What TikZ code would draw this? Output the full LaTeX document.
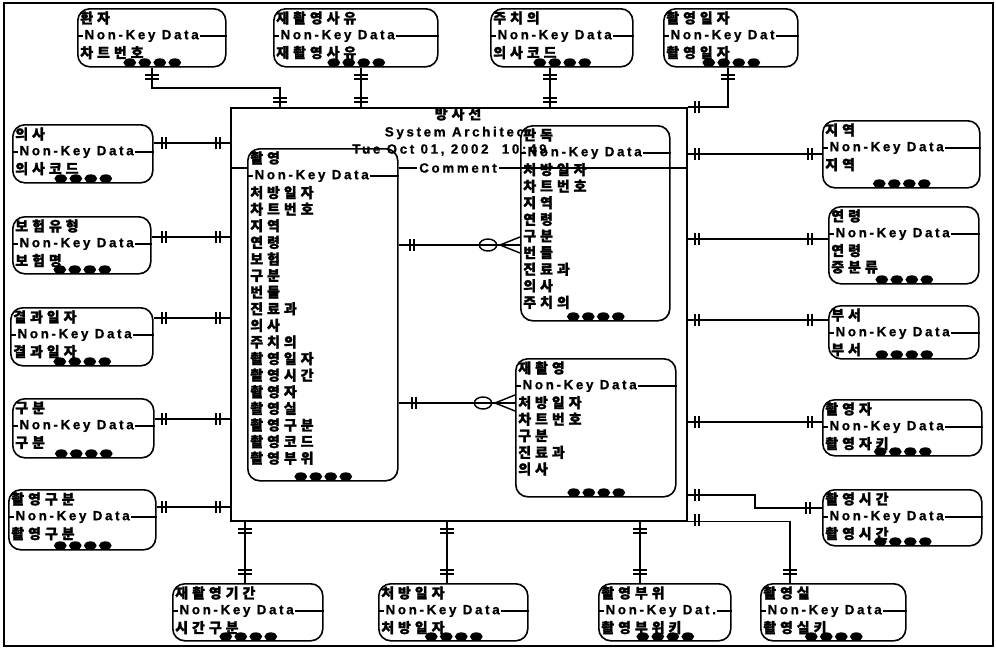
\documentclass[tikz,border=0pt]{standalone}
\usepackage{fontspec}
\setmainfont{Liberation Sans}[LetterSpace=20,BoldFeatures={FakeBold=1}]
\newfontfamily\kr{Noto Sans CJK KR}[LetterSpace=28,BoldFeatures={FakeBold=1.5}]
\usetikzlibrary{positioning}

\tikzset{
  ent/.style={draw,line width=1.2pt,rounded corners=9,anchor=north west,inner sep=0pt,fill=white},
  txt/.style={anchor=west,inner sep=0pt,font=\bfseries\fontsize{10}{10}\selectfont},
  ktxt/.style={anchor=west,inner sep=0pt,font=\kr\bfseries\fontsize{10.5}{10.5}\selectfont},
  rel/.style={line width=1.1pt},
  pics/uv/.style={code={\draw[rel] (-7,-2) -- (7,-2) (-7,2) -- (7,2);}},
  pics/uh/.style={code={\draw[rel] (-2,-6) -- (-2,6) (2,-6) -- (2,6);}},
  pics/muchos/.style={code={\draw[rel] (-32,0) ellipse (6.5pt and 4.5pt) (-20,0) -- (0,-8) (-20,0) -- (0,8);}},
}

% caja de entidad: id, x, y, ancho, alto, titulo, texto, atributos
\newcommand{\ent}[8]{%
  \node[ent,minimum width=#4*0.75pt,minimum height=#5*0.75pt] (#1) at (#2,#3) {};
  \node[ktxt] at ([shift={(3,10)}]#1.north west) {#6};
  \draw[line width=1pt] ([shift={(0,28)}]#1.north west) -- ([shift={(0,28)}]#1.north east);
  \node[txt,fill=white,inner xsep=1pt,inner ysep=1pt] at ([shift={(6,28)}]#1.north west) {#7};
  \foreach \a [count=\i] in {#8}
    \node[ktxt] at ([shift={(3,28+16.6*\i)}]#1.north west) {\a};
  \foreach \k in {-22,-7,8,23}
    \fill ([shift={(\k,-5)}]#1.south) ellipse (4.8pt and 3.2pt);
}

\begin{document}
\begin{tikzpicture}[x=0.75pt,y=-0.75pt]
  \useasboundingbox (0,0) rectangle (996,650);
  \draw[line width=1pt] (4,3) rectangle (993,646);

  % Area del modelo
  \node[draw,line width=1.2pt,anchor=north west,inner sep=0pt,
        minimum width=456*0.75pt,minimum height=413*0.75pt] (F) at (230,107) {};
  \node[ktxt,anchor=center] (tit) at (458,114) {방사선};
  \node[txt,anchor=center] (sis) at (458,133) {System Architect};

  % Entidades de arriba
  \ent{hj}{77}{8}{148}{58}{환자}{Non-Key Data}{차트번호}
  \ent{jsy}{273}{8}{164}{58}{재촬영사유}{Non-Key Data}{재촬영사유}
  \ent{jcu}{490}{8}{142}{58}{주치의}{Non-Key Data}{의사코드}
  \ent{cid}{663}{8}{134}{58}{촬영일자}{Non-Key Dat}{촬영일자}

  % Entidades a la izquierda
  \ent{ui}{12}{124}{140}{58}{의사}{Non-Key Data}{의사코드}
  \ent{bh}{12}{216}{138}{57}{보험유형}{Non-Key Data}{보험명}
  \ent{gi}{10}{307}{142}{58}{결과일자}{Non-Key Data}{결과일자}
  \ent{gb}{12}{398}{141}{59}{구분}{Non-Key Data}{구분}
  \ent{cgb}{8}{489}{147}{60}{촬영구분}{Non-Key Data}{촬영구분}

  % Entidades a la derecha
  \ent{jy}{822}{120}{157}{67}{지역}{Non-Key Data}{지역}
  \ent{yr}{828}{206}{150}{77}{연령}{Non-Key Data}{연령,중분류}
  \ent{bs}{828}{305}{150}{53}{부서}{Non-Key Data}{부서}
  \ent{cj}{822}{399}{159}{56}{촬영자}{Non-Key Data}{촬영자키}
  \ent{ct}{822}{489}{159}{56}{촬영시간}{Non-Key Data}{촬영시간}

  % Entidades de abajo
  \ent{jk}{172}{583}{150}{57}{재촬영기간}{Non-Key Data}{시간구분}
  \ent{cbi}{378}{583}{149}{57}{처방일자}{Non-Key Data}{처방일자}
  \ent{cbw}{598}{583}{132}{57}{촬영부위}{Non-Key Dat.}{촬영부위키}
  \ent{cs}{760}{583}{145}{57}{촬영실}{Non-Key Data}{촬영실키}

  % Entidades de dentro
  \ent{CE}{247}{148}{150}{332}{촬영}{Non-Key Data}{처방일자,차트번호,지역,연령,보험,구분,번들,진료과,의사,주치의,촬영일자,촬영시간,촬영자,촬영실,촬영구분,촬영코드,촬영부위}
  \ent{IW}{520}{125}{149}{195}{판독}{Non-Key Data}{처방일자,차트번호,지역,연령,구분,번들,진료과,의사,주치의}
  \ent{RE}{515}{358}{160}{138}{재촬영}{Non-Key Data}{처방일자,차트번호,구분,진료과,의사}

  % Fecha y comentario
  \node[txt] (fec) at (352,150) {Tue Oct 01, 2002\hspace{10pt}10:49};
  \draw[line width=1pt] (F.west |- 0,168) -- (CE.west |- 0,168);
  \draw[line width=1pt] (CE.east |- 0,168) -- (F.east |- 0,168);
  \node[txt,anchor=center,fill=white,inner xsep=2pt] (com) at (458,168) {Comment};

  % Relaciones de arriba
  \draw[rel] (hj.south) |- (280,88) -- (F.north -| 280,0);
  \draw[rel] (jsy.south -| 361,0) -- (F.north -| 361,0);
  \draw[rel] (jcu.south -| 550,0) -- (F.north -| 550,0);
  \draw[rel] (cid.south -| 728,0) |- (F.north east);

  % Relaciones a la izquierda
  \draw[rel] (ui.east |- 0,143) -- (F.west |- 0,143);
  \draw[rel] (bh.east |- 0,237) -- (F.west |- 0,237);
  \draw[rel] (gi.east |- 0,318) -- (F.west |- 0,318);
  \draw[rel] (gb.east |- 0,419) -- (F.west |- 0,419);
  \draw[rel] (cgb.east |- 0,507) -- (F.west |- 0,507);

  % Relaciones a la derecha
  \draw[rel] (F.east |- 0,154) -- (jy.west |- 0,154);
  \draw[rel] (F.east |- 0,239) -- (yr.west |- 0,239);
  \draw[rel] (F.east |- 0,320) -- (bs.west |- 0,320);
  \draw[rel] (F.east |- 0,422) -- (cj.west |- 0,422);
  \draw[rel] (F.east |- 0,495) -| (755,508) -- (ct.west |- 0,508);

  % Relaciones de abajo
  \draw[rel] (F.south -| 245,0) -- (jk.north -| 245,0);
  \draw[rel] (F.south -| 447,0) -- (cbi.north -| 447,0);
  \draw[rel] (F.south -| 640,0) -- (cbw.north -| 640,0);
  \draw[rel] (F.south east) -| (cs.north -| 790,0);

  % Relaciones de dentro
  \draw[rel] (CE.east |- 0,245) -- (IW.west |- 0,245);
  \draw[rel] (CE.east |- 0,403) -- (RE.west |- 0,403);

  % Cardinalidades
  \pic at (152,77) {uv};  \pic at (280,100) {uv};
  \pic at (361,77) {uv};  \pic at (361,100) {uv};
  \pic at (550,77) {uv};  \pic at (550,100) {uv};
  \pic at (728,77) {uv};  \pic at (697,107) {uh};
  \foreach \y in {143,237,318,419,507} {
    \pic at (164,\y) {uh};  \pic at (218,\y) {uh};
  }
  \foreach \y in {154,239,320,422} {
    \pic at (697,\y) {uh};  \pic at (810,\y) {uh};
  }
  \pic at (697,495) {uh};  \pic at (808,508) {uh};
  \foreach \x in {245,447,640} {
    \pic at (\x,531) {uv};  \pic at (\x,572) {uv};
  }
  \pic at (790,572) {uv};  \pic at (697,520) {uh};
  \pic at (412,245) {uh};  \pic at (IW.west |- 0,245) {muchos};
  \pic at (414,403) {uh};  \pic at (RE.west |- 0,403) {muchos};
\end{tikzpicture}
\end{document}
